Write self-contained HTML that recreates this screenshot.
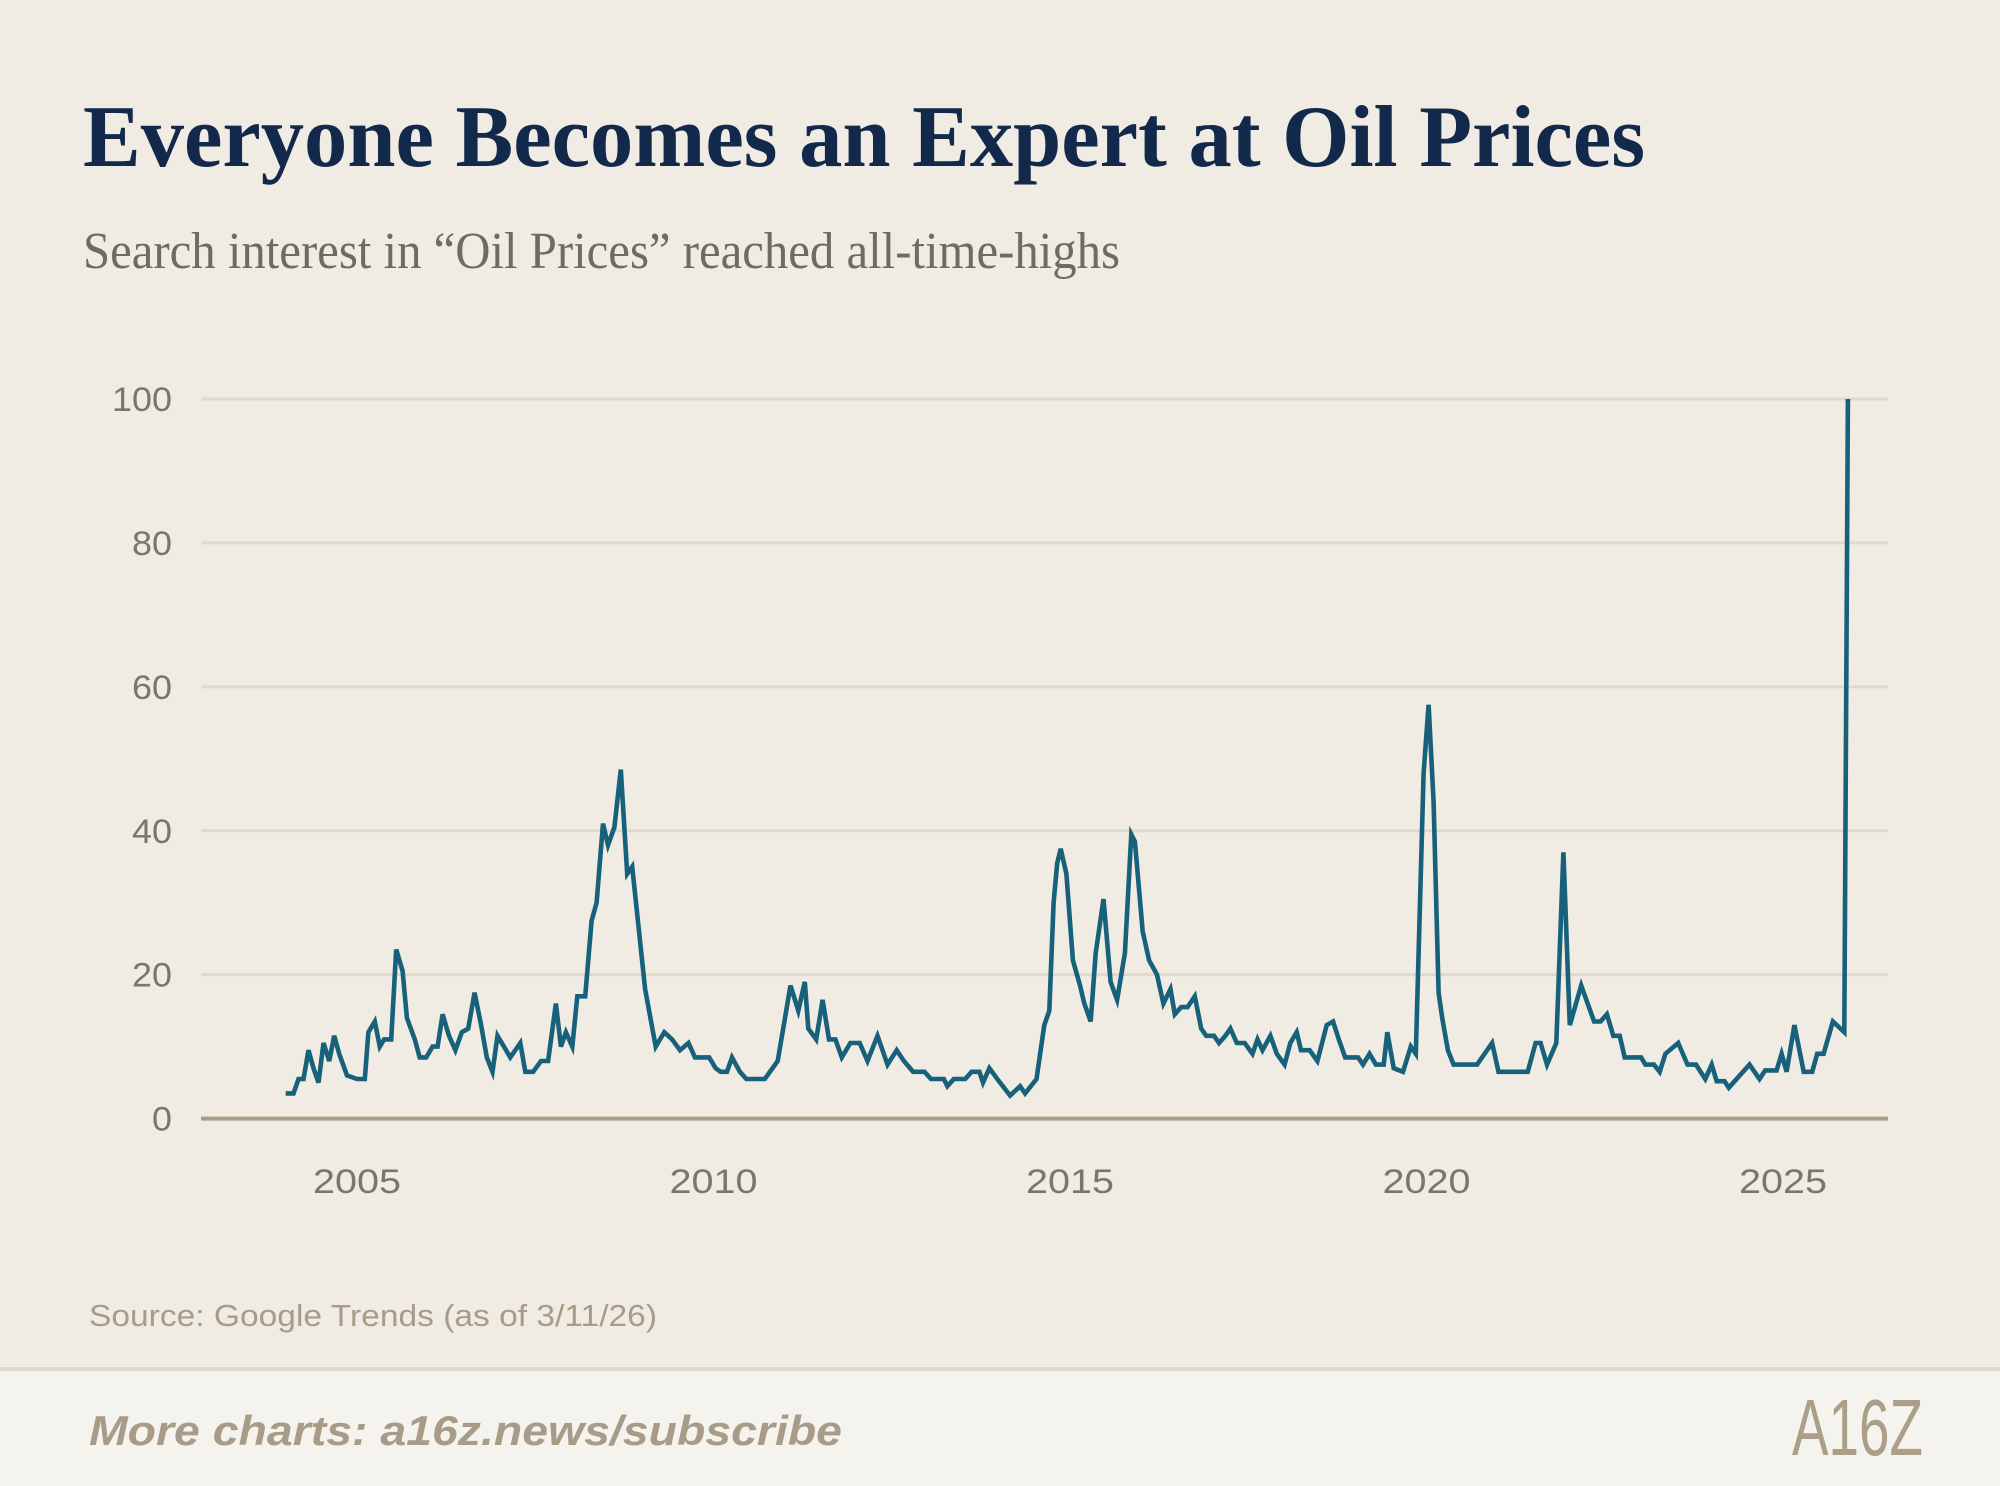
<!DOCTYPE html>
<html><head><meta charset="utf-8"><style>
html,body{margin:0;padding:0;background:#f0ebe3;overflow:hidden;width:2000px;height:1486px;}
svg{display:block;}
</style></head><body>
<svg id="chart" width="2000" height="1486" viewBox="0 0 2000 1486" xmlns="http://www.w3.org/2000/svg" overflow="hidden">
<rect x="0" y="0" width="2000" height="1486" fill="#f0ebe3"/>
<text x="83" y="166" font-family="Liberation Serif, serif" font-weight="bold" font-size="88" fill="#13294b" textLength="1562" lengthAdjust="spacingAndGlyphs">Everyone Becomes an Expert at Oil Prices</text>
<text x="83" y="268" font-family="Liberation Serif, serif" font-size="52" fill="#6e6a64" textLength="1037" lengthAdjust="spacingAndGlyphs">Search interest in “Oil Prices” reached all-time-highs</text>
<g id="grid"></g>
<g id="yticks"></g>
<g id="xticks"></g>
<path id="line" fill="none" stroke="#17617a" stroke-width="4.6" stroke-linejoin="miter"/>
<text x="89" y="1326" font-family="Liberation Sans, sans-serif" font-size="31" fill="#a89c88" textLength="568" lengthAdjust="spacingAndGlyphs">Source: Google Trends (as of 3/11/26)</text>
<g>
<rect x="0" y="1370" width="2000" height="116" fill="#f5f3ee"/>
<rect x="0" y="1367" width="2000" height="4" fill="#e0d9c8"/>
<text x="89" y="1445" font-family="Liberation Sans, sans-serif" font-style="italic" font-weight="bold" font-size="42" fill="#a89c88" textLength="753" lengthAdjust="spacingAndGlyphs">More charts: a16z.news/subscribe</text>
<text x="1792" y="1455" font-family="Liberation Sans, sans-serif" font-size="80" fill="#ab9f89" textLength="131" lengthAdjust="spacingAndGlyphs">A16Z</text>
</g>
</svg>
<script>
const years = [2004.00,2004.11,2004.18,2004.25,2004.32,2004.39,2004.46,2004.53,2004.61,2004.68,2004.75,2004.86,2005.00,2005.11,2005.16,2005.25,2005.32,2005.38,2005.48,2005.55,2005.64,2005.70,2005.81,2005.88,2005.97,2006.06,2006.13,2006.20,2006.29,2006.38,2006.47,2006.56,2006.65,2006.74,2006.82,2006.90,2006.97,2007.06,2007.15,2007.29,2007.36,2007.47,2007.58,2007.68,2007.79,2007.86,2007.93,2008.02,2008.09,2008.20,2008.29,2008.36,2008.45,2008.52,2008.61,2008.70,2008.79,2008.86,2009.04,2009.19,2009.31,2009.42,2009.53,2009.65,2009.74,2009.83,2009.94,2010.03,2010.10,2010.19,2010.26,2010.37,2010.46,2010.72,2010.90,2011.08,2011.19,2011.28,2011.33,2011.44,2011.53,2011.62,2011.71,2011.80,2011.92,2012.05,2012.16,2012.30,2012.44,2012.57,2012.67,2012.80,2012.96,2013.05,2013.23,2013.28,2013.37,2013.53,2013.62,2013.73,2013.78,2013.87,2013.98,2014.16,2014.30,2014.37,2014.53,2014.64,2014.71,2014.77,2014.82,2014.87,2014.95,2015.04,2015.14,2015.20,2015.29,2015.36,2015.47,2015.57,2015.66,2015.77,2015.86,2015.91,2016.02,2016.11,2016.22,2016.31,2016.41,2016.47,2016.56,2016.65,2016.75,2016.84,2016.91,2017.02,2017.09,2017.18,2017.25,2017.34,2017.45,2017.56,2017.63,2017.70,2017.81,2017.90,2018.01,2018.09,2018.18,2018.24,2018.36,2018.47,2018.60,2018.69,2018.77,2018.86,2019.04,2019.11,2019.20,2019.29,2019.40,2019.45,2019.54,2019.67,2019.78,2019.85,2019.96,2020.03,2020.10,2020.17,2020.22,2020.30,2020.38,2020.71,2020.92,2021.01,2021.42,2021.53,2021.60,2021.69,2021.82,2021.92,2022.01,2022.17,2022.35,2022.44,2022.53,2022.62,2022.71,2022.78,2023.01,2023.07,2023.19,2023.27,2023.35,2023.53,2023.66,2023.78,2023.91,2024.00,2024.07,2024.18,2024.24,2024.53,2024.67,2024.75,2024.91,2024.98,2025.05,2025.16,2025.29,2025.41,2025.48,2025.57,2025.70,2025.86,2025.91];
const interest = [3.5,3.5,5.5,5.5,9.5,7,5,10.5,8,11.5,9,6,5.5,5.5,12,13.5,10,11,11,23.5,20.5,14,11,8.5,8.5,10,10,14.5,11.5,9.5,12,12.5,17.5,13,8.5,6.5,11.5,10,8.5,10.5,6.5,6.5,8,8,16,10,12,10,17,17,27.5,30,41,38,40.5,48.5,34,35,18,10,12,11,9.5,10.5,8.5,8.5,8.5,7,6.5,6.5,8.5,6.5,5.5,5.5,8,18.5,15,19,12.5,11,16.5,11,11,8.5,10.5,10.5,8,11.5,7.5,9.5,8,6.5,6.5,5.5,5.5,4.5,5.5,5.5,6.5,6.5,5,7,5.5,3.2,4.5,3.5,5.5,13,15,30,35.5,37.5,34,22,18.5,16,13.5,23,30.5,19,16.5,23,39.5,38.5,26,22,20,16,18,14.5,15.5,15.5,17,12.5,11.5,11.5,10.5,11.5,12.5,10.5,10.5,9,11,9.5,11.5,9,7.5,10.5,12,9.5,9.5,8,13,13.5,11,8.5,8.5,7.5,9,7.5,7.5,12,7,6.5,10,9,48,57.5,44,17.5,14,9.5,7.5,7.5,10.5,6.5,6.5,10.5,10.5,7.5,10.5,37,13,18.5,13.5,13.5,14.5,11.5,11.5,8.5,8.5,7.5,7.5,6.5,9,10.5,7.5,7.5,5.5,7.5,5.2,5.2,4.3,7.5,5.5,6.7,6.7,9,6.5,13,6.5,6.5,9,9,13.5,12,100];
const yTicks = [0,20,40,60,80,100];
const xTicks = [2005,2010,2015,2020,2025];

const NS = 'http://www.w3.org/2000/svg';
const plotL = 201, plotR = 1888;
const xS = y => 357 + (y - 2005) * 71.3;
const yS = v => 1118.6 - v * 7.196;

const grid = document.getElementById('grid');
const yt = document.getElementById('yticks');
yTicks.forEach(t => {
  const l = document.createElementNS(NS, 'line');
  
  
  l.setAttribute('x1', plotL); l.setAttribute('x2', plotR);
  l.setAttribute('y1', yS(t)); l.setAttribute('y2', yS(t));
  l.setAttribute('stroke', t === 0 ? '#a89c88' : '#e1dac9');
  l.setAttribute('stroke-width', t === 0 ? 4 : 3);
  grid.appendChild(l);
  const tx = document.createElementNS(NS, 'text');
  
  
  tx.setAttribute('x', 172); tx.setAttribute('y', yS(t) + 12);
  tx.setAttribute('text-anchor', 'end');
  tx.setAttribute('font-family', 'Liberation Sans, sans-serif');
  tx.setAttribute('font-size', '34');
  tx.setAttribute('fill', '#7a766f');
  tx.setAttribute('textLength', String(t).length * 20);
  tx.setAttribute('lengthAdjust', 'spacingAndGlyphs');
  tx.textContent = t;
  yt.appendChild(tx);
});
const xt = document.getElementById('xticks');
xTicks.forEach(t => {
  const tx = document.createElementNS(NS, 'text');
  
  
  tx.setAttribute('x', xS(t)); tx.setAttribute('y', 1193);
  tx.setAttribute('text-anchor', 'middle');
  tx.setAttribute('font-family', 'Liberation Sans, sans-serif');
  tx.setAttribute('font-size', '34');
  tx.setAttribute('fill', '#7a766f');
  tx.setAttribute('textLength', '88');
  tx.setAttribute('lengthAdjust', 'spacingAndGlyphs');
  tx.textContent = t;
  xt.appendChild(tx);
});
let d = '';
years.forEach((y, i) => { d += (i ? 'L' : 'M') + xS(y).toFixed(1) + ',' + yS(interest[i]).toFixed(1); });
document.getElementById('line').setAttribute('d', d);
</script>
</body></html>
